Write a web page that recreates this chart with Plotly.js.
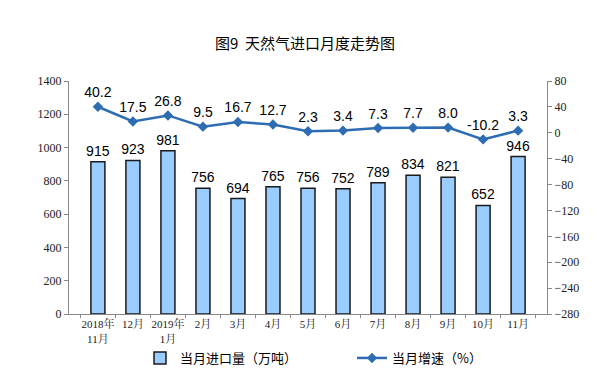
<!DOCTYPE html>
<html><head><meta charset="utf-8">
<script src="https://cdn.plot.ly/plotly-3.0.1.min.js"></script>
<style>body{margin:0;background:#fff}#c{width:610px;height:379px}</style>
</head><body><div id="c"></div>
<script>
const categories = ["2018年<br>11月","12月","2019年<br>1月","2月","3月","4月","5月","6月","7月","8月","9月","10月","11月"];
const imports = [915,923,981,756,694,765,756,752,789,834,821,652,946];
const growth = [40.2,17.5,26.8,9.5,16.7,12.7,2.3,3.4,7.3,7.7,8.0,-10.2,3.3];
const leftTicks = [0,200,400,600,800,1000,1200,1400];
const rightTicks = [-280,-240,-200,-160,-120,-80,-40,0,40,80];

const serif = "'Liberation Serif','Noto Serif CJK SC','Noto Sans CJK SC',serif";
const sans = "'Liberation Sans','Noto Sans CJK SC',Arial,sans-serif";
const cjk = "'Noto Sans CJK SC',sans-serif";

const traces = [
  {type:'bar', x:categories, y:imports, name:'当月进口量（万吨）', legend:'legend',
   marker:{color:'#99CCFF', line:{color:'#1a1a1a', width:1.5}},
   text:imports.map(String), textposition:'outside', cliponaxis:false,
   constraintext:'none', textangle:0,
   textfont:{family:sans, size:14, color:'#000'}, hoverinfo:'skip'},
  {type:'scatter', x:categories, y:growth, yaxis:'y2', name:'当月增速（%）', legend:'legend2',
   mode:'lines+markers+text', line:{color:'#2E6DB4', width:2.5},
   marker:{symbol:'diamond', size:8, color:'#2E6DB4'},
   text:growth.map(v=>v.toFixed(1)), textposition:'top center', cliponaxis:false,
   textfont:{family:sans, size:14, color:'#000'}, hoverinfo:'skip'}
];

const legBase = {orientation:'h', xanchor:'left', xref:'container', yref:'container',
  y:21/379, yanchor:'middle', bgcolor:'rgba(0,0,0,0)',
  font:{family:cjk, size:13, color:'#000'}};

const layout = {
  width:610, height:379,
  margin:{l:69, r:63, t:81, b:65},
  paper_bgcolor:'#fff', plot_bgcolor:'#fff',
  title:{text:'图9  天然气进口月度走势图', x:0.5, xanchor:'center', y:0.885, yanchor:'middle',
         font:{family:cjk, size:15, color:'#000'}},
  bargap:0.6,
  showlegend:true,
  legend:Object.assign({}, legBase, {x:140/610}),
  legend2:Object.assign({}, legBase, {x:352/610}),
  xaxis:{type:'category', showline:true, linecolor:'#888', linewidth:1, automargin:false,
         ticks:'outside', ticklen:3, tickcolor:'#888', tickson:'boundaries', tickangle:0,
         tickfont:{family:serif, size:11, color:'#222'}, showgrid:false, zeroline:false},
  yaxis:{range:[0,1400], tickvals:leftTicks, showline:true, linecolor:'#888', linewidth:1,
         ticks:'outside', ticklen:4, tickcolor:'#888', showgrid:false, zeroline:false, automargin:false,
         tickfont:{family:serif, size:12, color:'#222'}},
  yaxis2:{range:[-280,80], tickvals:rightTicks, overlaying:'y', side:'right', automargin:false,
          showline:true, linecolor:'#888', linewidth:1, ticks:'outside', ticklen:4, tickcolor:'#888',
          showgrid:false, zeroline:false, tickfont:{family:serif, size:12, color:'#222'}}
};
Plotly.newPlot('c', traces, layout, {displayModeBar:false, staticPlot:true});
</script></body></html>
